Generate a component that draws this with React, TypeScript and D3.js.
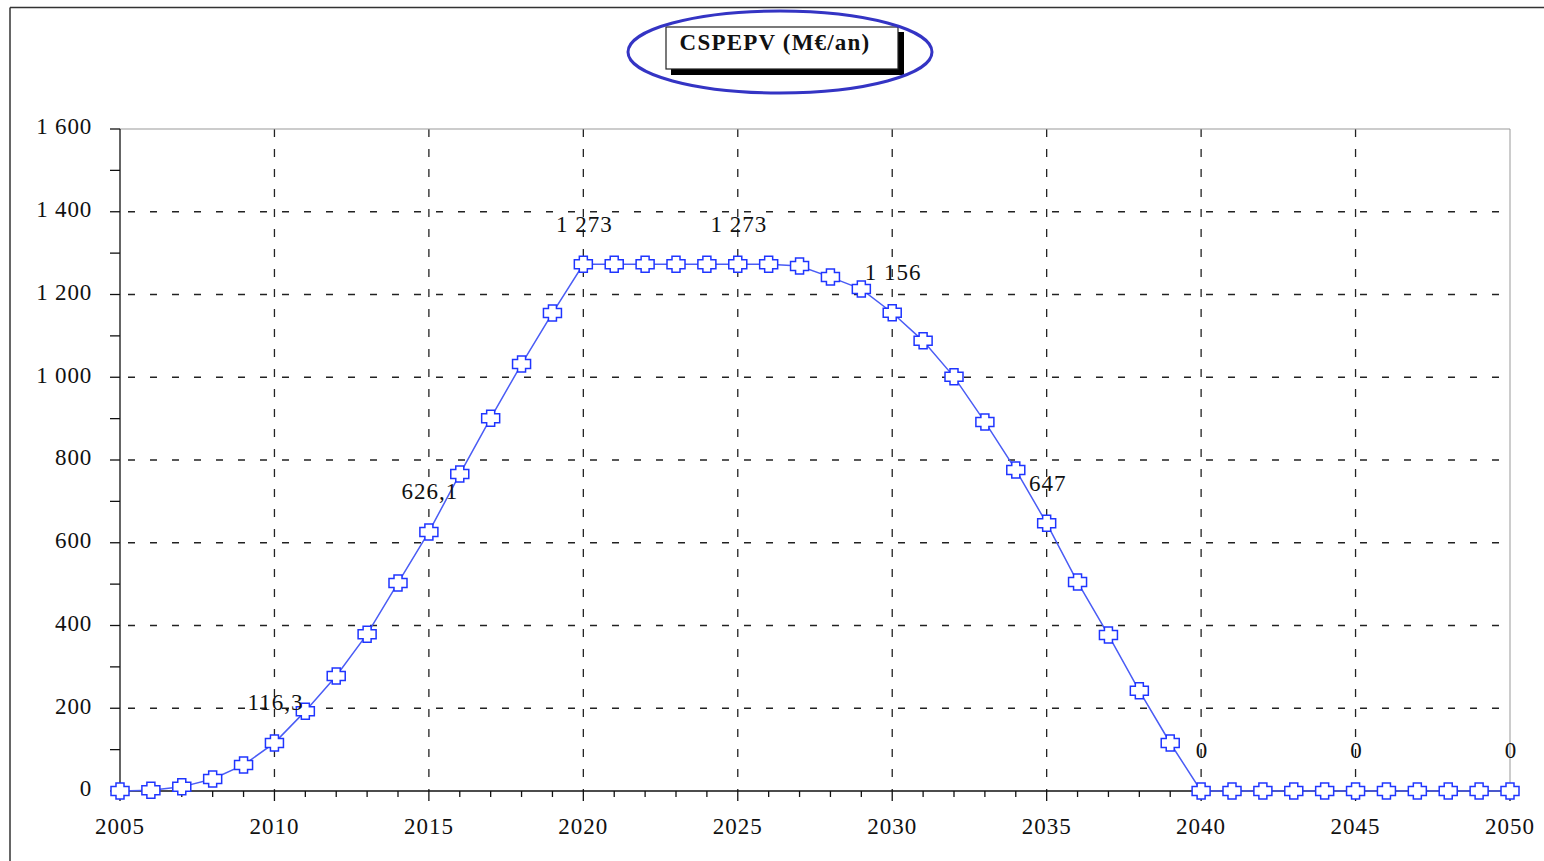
import React from "react";
import * as d3 from "d3";

const years = d3.range(2005, 2051);
const values = [
  0, 2, 10, 29, 63, 116.3, 193, 278, 379, 503,
  626.1, 766, 901, 1032, 1155, 1273, 1273, 1273, 1273, 1273,
  1273, 1273, 1269, 1242, 1213, 1156, 1088, 1001, 892, 776,
  647, 505, 377, 242, 116, 0, 0, 0, 0, 0,
  0, 0, 0, 0, 0, 0,
];
const labelYears = [2010, 2015, 2020, 2025, 2030, 2035, 2040, 2045, 2050];
const labelTexts = ["116,3", "626,1", "1 273", "1 273", "1 156", "647", "0", "0", "0"];
const yTicks = [0, 200, 400, 600, 800, 1000, 1200, 1400, 1600];
const yTickLabels = ["0", "200", "400", "600", "800", "1 000", "1 200", "1 400", "1 600"];
const xTicks = [2005, 2010, 2015, 2020, 2025, 2030, 2035, 2040, 2045, 2050];
const title = "CSPEPV (M€/an)";

const W = 1544, H = 861;
const x = d3.scaleLinear().domain([2005, 2050]).range([120, 1510]);
const y = d3.scaleLinear().domain([0, 1600]).range([791, 129]);

function markerPath(cx: number, cy: number) {
  const a = 9, b = 4, c = 8, d = 3.5;
  const pts = [
    [-b, -c], [b, -c], [b, -c + d], [a, -c + d], [a, c - d], [b, c - d], [b, c],
    [-b, c], [-b, c - d], [-a, c - d], [-a, -c + d], [-b, -c + d],
  ];
  return "M" + pts.map(p => `${cx + p[0]},${cy + p[1]}`).join("L") + "Z";
}

export default function App() {
  const line = d3.line<number>().x((_, i) => x(years[i])).y(v => y(v));
  const font = "'Liberation Serif', 'DejaVu Serif', serif";
  return (
    <svg width={W} height={H} style={{ position: "absolute", left: 0, top: 0 }}>
      <rect x={0} y={0} width={W} height={H} fill="#fff" />
      {/* frame */}
      <line x1={10} y1={7.5} x2={W} y2={7.5} stroke="#333" strokeWidth={1.5} />
      <line x1={10} y1={7.5} x2={10} y2={H} stroke="#333" strokeWidth={1.5} />
      {/* title */}
      <rect x={671} y={32} width={233} height={43} fill="#000" />
      <rect x={666} y={27} width={232} height={42} fill="#fff" stroke="#222" strokeWidth={1.2} />
      <text x={775} y={45} textAnchor="middle" dominantBaseline="middle" fontFamily={font} fontWeight="bold" fontSize={23} letterSpacing={1.2} fill="#111">{title}</text>
      <ellipse cx={780} cy={52} rx={152} ry={41} fill="none" stroke="#3434c4" strokeWidth={3} />
      {/* grid */}
      {yTicks.filter(t => t > 0 && t < 1600).map(t => (
        <line key={"hg" + t} x1={x(2005)} x2={x(2050)} y1={y(t)} y2={y(t)} stroke="#222" strokeWidth={1.3} strokeDasharray="7,15" strokeDashoffset={-8} />
      ))}
      {xTicks.filter(t => t > 2005 && t < 2050).map(t => (
        <line key={"vg" + t} x1={x(t)} x2={x(t)} y1={y(1600)} y2={y(0)} stroke="#222" strokeWidth={1.3} strokeDasharray="8,12" />
      ))}
      {/* border top/right */}
      <line x1={x(2005)} x2={x(2050)} y1={y(1600)} y2={y(1600)} stroke="#999" strokeWidth={1} />
      <line x1={x(2050)} x2={x(2050)} y1={y(1600)} y2={y(0)} stroke="#999" strokeWidth={1} />
      {/* axes */}
      <line x1={x(2005)} x2={x(2005)} y1={y(1600)} y2={y(0)} stroke="#111" strokeWidth={1.3} />
      <line x1={x(2005)} x2={x(2050)} y1={y(0)} y2={y(0)} stroke="#111" strokeWidth={1.3} />
      {d3.range(0, 1601, 100).map(t => (
        <line key={"yt" + t} x1={x(2005) - 10} x2={x(2005)} y1={y(t)} y2={y(t)} stroke="#111" strokeWidth={1.3} />
      ))}
      {yTicks.map((t, i) => (
        <text key={"yl" + t} x={92} y={y(t)} textAnchor="end" dominantBaseline="middle" fontFamily={font} fontSize={23} letterSpacing={0.8} fill="#111">{yTickLabels[i]}</text>
      ))}
      {years.map(yr => (
        <line key={"xt" + yr} x1={x(yr)} x2={x(yr)} y1={y(0)} y2={y(0) + (yr % 5 === 0 ? 10 : 6)} stroke="#111" strokeWidth={1.3} />
      ))}
      {xTicks.map(t => (
        <text key={"xl" + t} x={x(t)} y={829} textAnchor="middle" dominantBaseline="middle" fontFamily={font} fontSize={23} letterSpacing={1} fill="#111">{t}</text>
      ))}
      {/* series */}
      <path d={line(values) || ""} fill="none" stroke="#4a5cf5" strokeWidth={1.5} />
      {values.map((v, i) => (
        <path key={"m" + i} d={markerPath(x(years[i]), y(v))} fill="#fff" stroke="#1f35ff" strokeWidth={1.5} />
      ))}
      {labelYears.map((yr, i) => {
        const v = values[years.indexOf(yr)];
        return (
          <text key={"dl" + yr} x={x(yr) + 1} y={y(v) - 38} textAnchor="middle" dominantBaseline="middle" fontFamily={font} fontSize={23} letterSpacing={1} fill="#111">{labelTexts[i]}</text>
        );
      })}
    </svg>
  );
}
